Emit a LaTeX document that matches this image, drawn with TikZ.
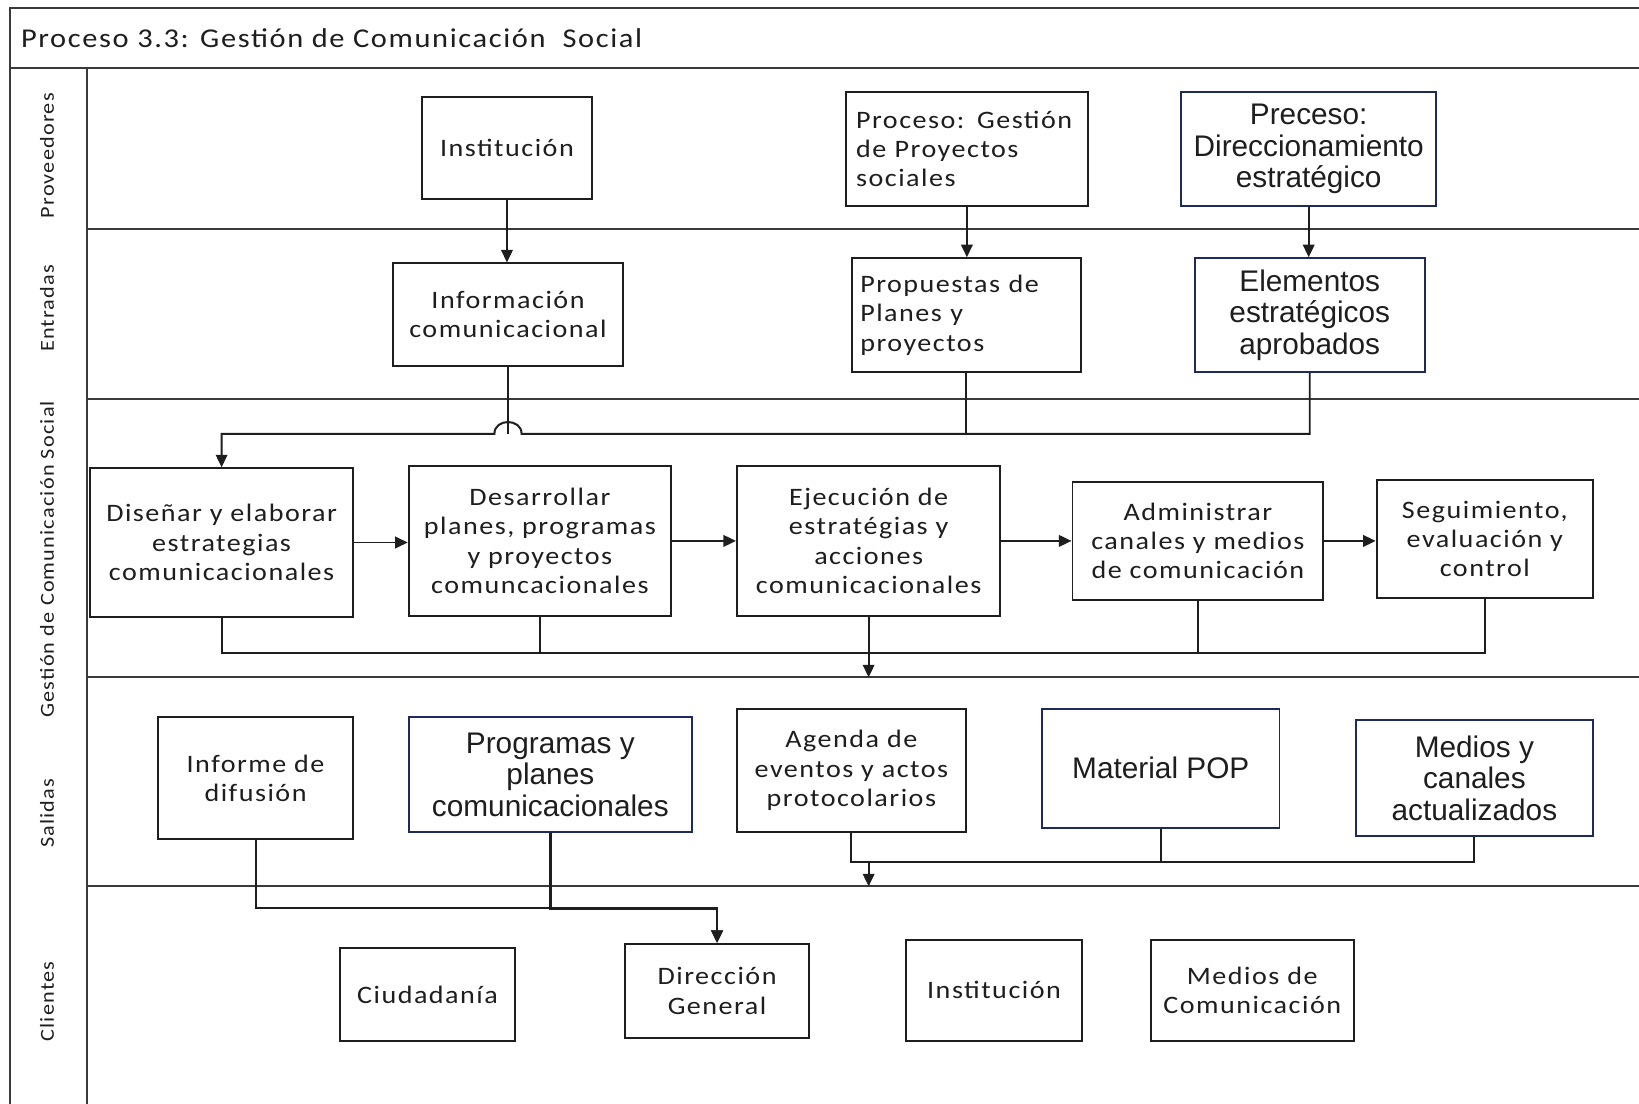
\documentclass[tikz,border=0pt]{standalone}
\usepackage{fontspec}
\usetikzlibrary{arrows.meta}
\newfontfamily\calfont{Carlito}[FakeStretch=1.12, LetterSpace=6.0]
\newfontfamily\arifont{Liberation Sans}
\definecolor{ink}{HTML}{1E1E1E}
\definecolor{rule}{HTML}{3A3A3A}
\definecolor{navy}{HTML}{1F2A5C}

\begin{document}
\begin{tikzpicture}[x=1pt,y=-1pt,
  lane/.style={draw=rule, line width=2pt},
  box/.style={draw=ink, line width=1.8pt, fill=white, inner sep=0pt, align=center,
    text=ink, font=\calfont\fontsize{24}{28}\selectfont},
  navybox/.style={box, draw=navy, font=\arifont\fontsize{28.5}{30}\selectfont},
  leftbox/.style={box, align=left},
  flow/.style={draw=ink, line width=1.9pt, -{Triangle[length=12pt,width=11pt]}},
  link/.style={draw=ink, line width=1.9pt},
  lanelabel/.style={rotate=90, text=ink, inner sep=0pt, font=\calfont\fontsize{19}{22}\selectfont},
  wh/.style 2 args={minimum width=#1pt, minimum height=#2pt}
]
\useasboundingbox (0,0) rectangle (1568,1056);
\fill[white] (0,0) rectangle (1568,1056);

% frame, title bar and swimlanes
\draw[lane] (10,1056) -- (10,8) -- (1568,8);
\draw[lane] (10,65) -- (1568,65);
\draw[lane] (83,65) -- (83,1056);
\draw[lane] (83,219) -- (1568,219);
\draw[lane] (83,382) -- (1568,382);
\draw[lane] (83,648) -- (1568,648);
\draw[lane] (83,848) -- (1568,848);
\coordinate (lnGS) at (83,648);
\coordinate (lnSC) at (83,848);

\node[anchor=west, inner sep=0pt, text=ink, font=\calfont\fontsize{26}{30}\selectfont]
  (title) at (20,37) {Proceso 3.3: Gestión de Comunicación\ \ Social};

\node[lanelabel] (lprov) at (45,149) {Proveedores};
\node[lanelabel] (lent)  at (45,295) {Entradas};
\node[lanelabel] (lgest) at (45,535) {Gestión de Comunicación Social};
\node[lanelabel] (lsal)  at (45,778) {Salidas};
\node[lanelabel] (lcli)  at (45,958) {Clientes};

% Proveedores
\node[box, wh={162}{97}] (inst1) at (485,141.5) {Institución};
\node[leftbox, wh={232}{109}, text width=212pt] (procGP) at (925,142.5)
  {Proceso: Gestión\\de Proyectos\\sociales};
\node[navybox, wh={244}{109}] (procDE) at (1252,142.5)
  {Preceso:\\Direccionamiento\\estratégico};

% Entradas
\node[box, wh={220}{98}] (info) at (486,301) {Información\\comunicacional};
\node[leftbox, wh={219}{109}, text width=203pt] (prop) at (924.5,301.5)
  {Propuestas de\\Planes y\\proyectos};
\node[navybox, wh={220}{109}] (elem) at (1253,301.5)
  {Elementos\\estratégicos\\aprobados};

% Gestión de Comunicación Social
\node[box, wh={252}{142}] (dis) at (212,519)
  {Diseñar y elaborar\\estrategias\\comunicacionales};
\node[box, wh={251}{143}] (des) at (516.5,517.5)
  {Desarrollar\\planes, programas\\y proyectos\\comuncacionales};
\node[box, wh={252}{143}] (eje) at (831,517.5)
  {Ejecución de\\estratégias y\\acciones\\comunicacionales};
\node[box, wh={240}{113}] (adm) at (1146,517.5)
  {Administrar\\canales y medios\\de comunicación};
\node[box, wh={207}{113}] (seg) at (1420.5,515.5)
  {Seguimiento,\\evaluación y\\control};

% Salidas
\node[box, wh={187}{117}] (inf) at (244.5,744.5) {Informe de\\difusión};
\node[navybox, wh={271}{110}] (prog) at (526.5,741)
  {Programas y\\planes\\comunicacionales};
\node[box, wh={219}{118}] (age) at (814.5,737)
  {Agenda de\\eventos y actos\\protocolarios};
\node[navybox, wh={227}{114}] (mat) at (1110.5,735) {Material POP};
\node[navybox, wh={227}{111}] (med) at (1410.5,744.5)
  {Medios y\\canales\\actualizados};

% Clientes
\node[box, wh={168}{89}] (ciu) at (409,951.5) {Ciudadanía};
\node[box, wh={176}{90}] (dir) at (686,948) {Dirección\\General};
\node[box, wh={168}{97}] (inst2) at (951,947.5) {Institución};
\node[box, wh={194}{97}] (mdc) at (1198,947.5) {Medios de\\Comunicación};

% suppliers to inputs
\draw[flow] (inst1.south) -- (inst1.south |- info.north);
\draw[flow] (procGP.south) -- (procGP.south |- prop.north);
\draw[flow] (procDE.south) -- (procDE.south |- elem.north);

% inputs gathered into the first activity (hop over the vertical line)
\coordinate (busIn) at (212,415);
\draw[flow] (elem.south) |- (499,415) .. controls (499,400) and (473,400) .. (473,415)
  -- (busIn) -- (dis.north);
\draw[link] (prop.south) -- (prop.south |- busIn);
\draw[link] (info.south) -- (info.south |- busIn);

% activity chain
\draw[flow] (dis.east) -- (dis.east -| des.west);
\draw[flow] (des.east) -- (des.east -| eje.west);
\draw[flow] (eje.east) -- (eje.east -| adm.west);
\draw[flow] (adm.east) -- (adm.east -| seg.west);

% activities to outputs
\coordinate (busOut) at (212,625);
\draw[link] (dis.south) |- (seg.south |- busOut) -- (seg.south);
\draw[link] (des.south) -- (des.south |- busOut);
\draw[link] (adm.south) -- (adm.south |- busOut);
\draw[flow] (eje.south) -- (eje.south |- lnGS);

% outputs to clients
\coordinate (busSal) at (831,825);
\draw[link] (age.south) |- (med.south |- busSal) -- (med.south);
\draw[link] (mat.south) -- (mat.south |- busSal);
\draw[flow] (busSal) -- (busSal |- lnSC);

\coordinate (busCli) at (686,869);
\draw[flow] (inf.south) |- (busCli) -- (dir.north);
\draw[flow, line width=2.6pt] (prog.south) |- (busCli) -- (dir.north);
\end{tikzpicture}
\end{document}
